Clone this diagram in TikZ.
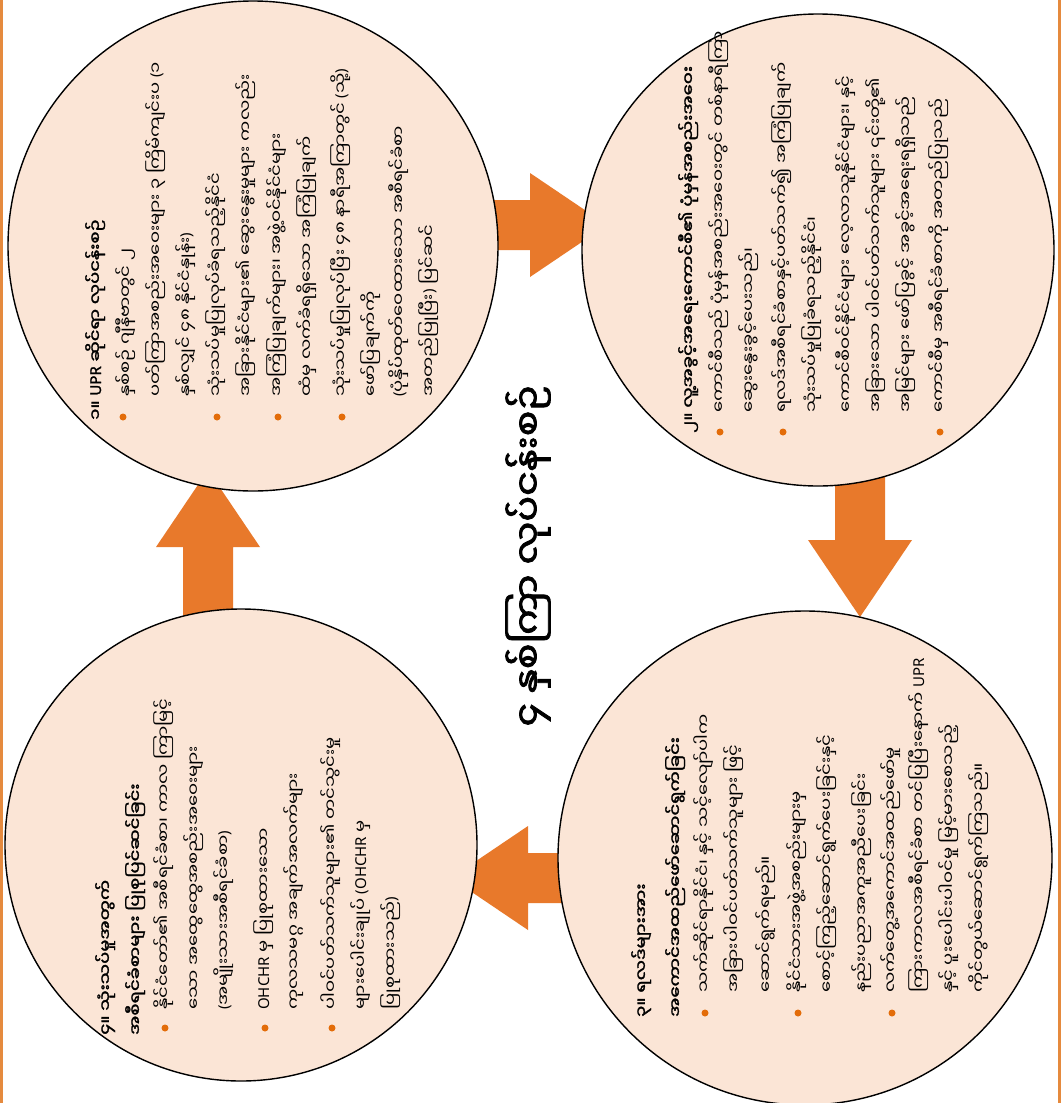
\documentclass[tikz,border=0pt]{standalone}
\usepackage{fontspec}
\newfontfamily\mm[Script=Myanmar,FakeStretch=1.2]{Noto Sans Myanmar UI}
\newfontfamily\mmb[Script=Myanmar,FakeBold=2,FakeStretch=1.2]{Noto Sans Myanmar UI}
\newfontfamily\mmc[Script=Myanmar,FakeBold=2.5,FakeStretch=1.12]{Noto Sans Myanmar UI}
\newfontfamily\lat{Noto Sans}
\newfontfamily\latb[FakeBold=1.5]{Noto Sans}
\newcommand\lt[1]{{\lat #1}}
\newcommand\ltb[1]{{\latb #1}}
\definecolor{peach}{HTML}{FBE5D6}
\definecolor{arr}{HTML}{E8792B}
\definecolor{bul}{HTML}{E36C09}
\definecolor{frm}{HTML}{E58A3E}
\tikzset{
 circ/.style={circle, draw=black, line width=1.4pt, fill=peach, inner sep=0pt},
 ln/.style={rotate=90, anchor=base west, inner sep=0pt, font=\mm\fontsize{15}{17}\selectfont},
 ttl/.style={rotate=90, anchor=base west, inner sep=0pt, font=\mmb\fontsize{15}{17}\selectfont},
 dot/.style={circle, fill=bul, inner sep=0pt, minimum size=7pt},
 bigttl/.style={rotate=90, anchor=center, inner sep=0pt, font=\mmc\fontsize{34}{40}\selectfont},
 blk/.style={fill=arr},
}
\newcommand\blockarrow[3]{% tip x, tip y, angle
 \begin{scope}[shift={(#1,#2)},rotate=#3]
  \fill[blk] (0,0) -- (-77,52) -- (-77,25) -- (-150,25) -- (-150,-25) -- (-77,-25) -- (-77,-52) -- cycle;
 \end{scope}}
\begin{document}
\begin{tikzpicture}[x=1pt,y=1pt]
\useasboundingbox (0,0) rectangle (1062,-1103);
\fill[white] (0,0) rectangle (1062,-1103);
% frame lines
\draw[frm, line width=3pt] (1.5,0) -- (1.5,-1103);
\draw[frm, line width=3pt] (1059,0) -- (1059,-1103);
% block arrows
\blockarrow{607}{-225}{0}
\blockarrow{860}{-617}{-90}
\blockarrow{451}{-878}{180}
\blockarrow{208}{-470}{90}
% circles
\node[circ, minimum size=490pt] (c1) at (253,-246) {};
\node[circ, minimum size=472pt] (c2) at (818,-250) {};
\node[circ, minimum size=494pt] (c3) at (805,-858) {};
\node[circ, minimum size=472pt] (c4) at (241,-845) {};
% centre title
\node[bigttl] (ctitle) at (528,-556) {၄ နှစ်ကြာ လုပ်ငန်းစဉ်};
% circle 1
\node[ttl] (c1t) at (101,-420) {၁။ \ltb{UPR} ဆိုင်ရာ လုပ်ငန်းစဉ်};
\node[dot] (b11) at (123,-417) {};
\node[dot] (b12) at (217,-417) {};
\node[dot] (b13) at (278,-417) {};
\node[dot] (b14) at (342,-417) {};
\node[ln] (c1a) at (131,-397) {နှစ်စဉ် ဂျီနီဗာတွင် ၂};
\node[ln] (c1b) at (161,-397) {ပတ်ကြာအစည်းအဝေးများ ၃ ကြိမ်ကျင်းပ \lt{(}၁};
\node[ln] (c1c) at (191,-397) {နှစ်လျှင် ၄၈ နိုင်ငံနှုန်း\lt{)}};
\node[ln] (c1d) at (221,-397) {သုံးသပ်မှုပြုလုပ်ခံရသည့်နိုင်ငံ};
\node[ln] (c1e) at (251,-397) {အခြားနိုင်ငံများ၏ ဆွေးနွေးမှုများ ကလည်း};
\node[ln] (c1f) at (282,-397) {အကြံပြုချက်များ၊ အဖွဲ့ဝင်နိုင်ငံများ};
\node[ln] (c1g) at (312,-397) {ထံမှ လက်ခံရရှိသော အကြံပြုချက်};
\node[ln] (c1h) at (346,-397) {သုံးသပ်မှုပြုလုပ်ပြီး ၄၈ နာရီအကြာတွင် \lt{(}သို့\lt{)}};
\node[ln] (c1i) at (376,-397) {ဖော်ပြချက်ကို};
\node[ln] (c1j) at (404,-397) {\lt{(}ပုံနှိပ်ထုတ်ဝေထားသော အစီရင်ခံစာ};
\node[ln] (c1k) at (434,-397) {အတည်ပြုပြီး\lt{)} ပြင်ဆင်};
% circle 2
\node[ttl] (c2t) at (694,-433) {၂။ လူ့အခွင့်အရေးကောင်စီ၏ ပုံမှန်အစည်းအဝေး};
\node[dot] (b21) at (720,-432) {};
\node[dot] (b22) at (783,-432) {};
\node[dot] (b23) at (940,-432) {};
\node[ln] (c2a) at (724,-413) {ကောင်စီသည် ပုံမှန်အစည်းအဝေးတွင် တစ်နာရီကြာ};
\node[ln] (c2b) at (754,-413) {ဆွေးနွေးခွင့်ပေးသည်၊};
\node[ln] (c2c) at (787,-413) {ရလဒ်အစီရင်ခံစာနှင့်ပတ်သက်၍ အကြံပြုချက်};
\node[ln] (c2d) at (817,-413) {သုံးသပ်မှုပြုခံရသည့်နိုင်ငံ၊};
\node[ln] (c2e) at (851,-413) {ကောင်စီဝင်နိုင်ငံများ လေ့လာသူနိုင်ငံများ၊ နှင့်};
\node[ln] (c2f) at (881,-413) {အခြားသော ပါဝင်ပတ်သက်သူများ ၎င်းတို့၏};
\node[ln] (c2g) at (911,-413) {အမြင်များ ဖော်ပြခွင့် အခွင့်အရေးရရှိသည်};
\node[ln] (c2h) at (944,-413) {ကောင်စီမှ အစီရင်ခံစာကို အတည်ပြုသည်};
% circle 3
\node[ttl] (c3t) at (647,-1017) {၃။ ရလဒ်များအား};
\node[ttl] (c3u) at (681,-1017) {အကောင်အထည်ဖော်ဆောင်ရွက်ခြင်း};
\node[dot] (b31) at (705,-1013) {};
\node[dot] (b32) at (798,-1013) {};
\node[dot] (b33) at (892,-1013) {};
\node[ln] (c3a) at (709,-993) {သက်ဆိုင်ရာနိုင်ငံ၊ နှင့် သင့်လျော်ပါက};
\node[ln] (c3b) at (739,-993) {အခြားပါဝင်ပတ်သက်သူများ ဖြင့်};
\node[ln] (c3c) at (771,-993) {ဆောင်ရွက်ရမည်။};
\node[ln] (c3d) at (802,-993) {နိုင်ငံသားအဖွဲ့အစည်းများမှ};
\node[ln] (c3e) at (832,-993) {စောင့်ကြည့်ဆောင်ရွက်ပေးခြင်းနှင့်};
\node[ln] (c3f) at (867,-993) {နည်းပညာအကူအညီပေးခြင်း};
\node[ln] (c3g) at (896,-993) {လက်တွေ့အကောင်အထည်ဖော်မှု};
\node[ln] (c3h) at (924,-993) {ကြားကာလအစီရင်ခံစာ တင်ပြပြီးနောက် \lt{UPR}};
\node[ln] (c3i) at (954,-993) {နှင့် ပူးပေါင်းပါဝင်မှု မြင့်မားစေသည့်};
\node[ln] (c3j) at (984,-993) {ကိုင်တွယ်ဆောင်ရွက်ကြသည်။};
% circle 4
\node[ttl] (c4t) at (111,-1035) {၄။ သုံးသပ်မှုအတွက်};
\node[ttl] (c4u) at (141,-1035) {အစီရင်ခံစာများ ပြုစုပြင်ဆင်ခြင်း};
\node[dot] (b41) at (165,-1028) {};
\node[dot] (b42) at (265,-1028) {};
\node[dot] (b43) at (332,-1028) {};
\node[ln] (c4a) at (169,-1010) {နိုင်ငံတော်၏ အစီရင်ခံစာ၊ ကာလ ကြာမြင့်};
\node[ln] (c4b) at (199,-1010) {သော အထွေထွေအစည်းအဝေးများ};
\node[ln] (c4c) at (229,-1010) {\lt{(}အမျိုးသားအစီရင်ခံစာ\lt{)}};
\node[ln] (c4d) at (269,-1010) {\lt{OHCHR} မှ ပြုစုထားသော};
\node[ln] (c4e) at (299,-1010) {ကုလသမဂ္ဂ အချက်အလက်များ};
\node[ln] (c4f) at (336,-1010) {ပါဝင်ပတ်သက်သူများ၏ တင်သွင်းမှု};
\node[ln] (c4g) at (366,-1010) {များပေါင်းချုပ် \lt{(OHCHR} မှ};
\node[ln] (c4h) at (396,-1010) {ပြုစုထားသည်\lt{)}};
\end{tikzpicture}
\end{document}
